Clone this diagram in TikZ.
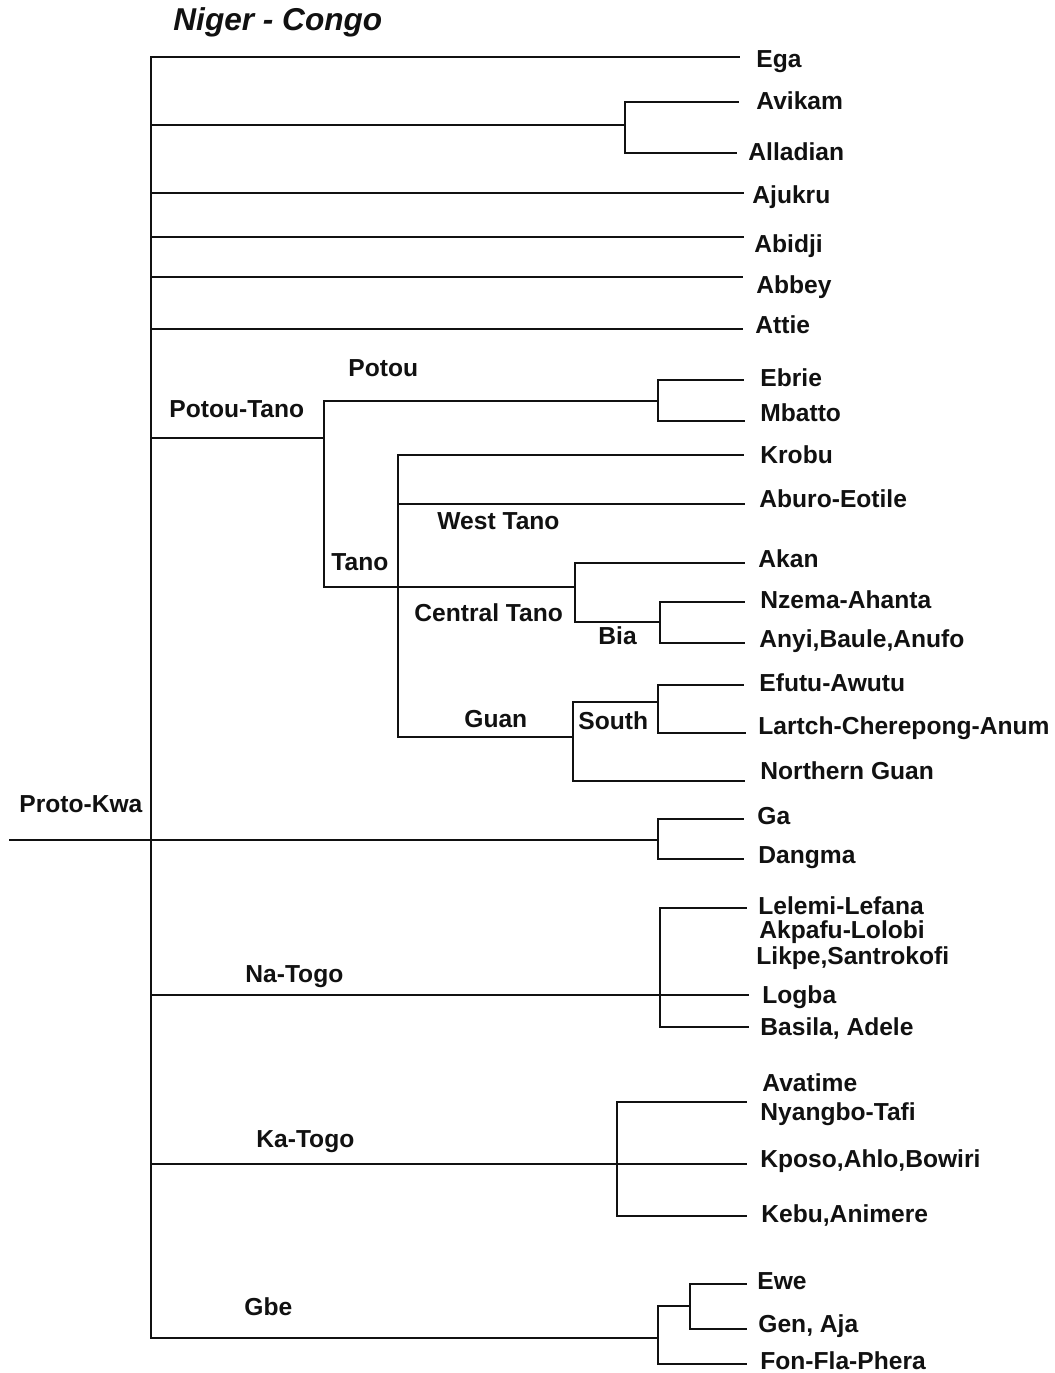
\documentclass[tikz,border=0pt]{standalone}
\usepackage{fontspec}
\setmainfont{Liberation Sans}
\usepackage{xcolor}
\usepackage{tikz}
\usetikzlibrary{positioning}
\definecolor{treeink}{HTML}{111111}
\tikzset{
  branch/.style      = {draw=treeink, line width=1.4pt, line cap=rect, line join=miter},
  leaf label/.style  = {anchor=west, inner sep=0pt, text height=0.716em, text depth=0pt,
                        text=treeink, font=\bfseries\fontsize{12.3}{14}\selectfont},
  clade label/.style = {leaf label},
  title label/.style = {leaf label, font=\bfseries\itshape\fontsize{15.8}{18}\selectfont},
}

\begin{document}
\begin{tikzpicture}[x=0.5pt, y=-0.5pt]
    \useasboundingbox (0,0) rectangle (1055,1373);
    \node[title label] (family) at (173,23) {Niger - Congo};

    % trunk and root
    \coordinate (trunk top) at (151,57);
    \coordinate (trunk bottom) at (151,1338);
    \coordinate (root) at (10,840);
    \node[clade label] (protokwa) at (19,805) {Proto-Kwa};
    \draw[branch] (trunk top) -- (trunk bottom);

    % junctions
    \coordinate (j avikam) at (625,125);
    \coordinate (j potoutano) at (324,438);
    \coordinate (j potou) at (658,401);
    \coordinate (j tano) at (398,587);
    \coordinate (j central) at (575,587);
    \coordinate (j bia) at (660,622);
    \coordinate (j guan) at (573,737);
    \coordinate (j south) at (658,702);
    \coordinate (j ga) at (658,840);
    \coordinate (j natogo) at (660,995);
    \coordinate (j katogo) at (617,1164);
    \coordinate (j gbe) at (658,1338);
    \coordinate (j ewe) at (690,1306);

    % leaf ends
    \coordinate (ega end) at (739,57);
    \coordinate (avikam end) at (738,102);
    \coordinate (alladian end) at (736,153);
    \coordinate (ajukru end) at (743,193);
    \coordinate (abidji end) at (743,237);
    \coordinate (abbey end) at (742,277);
    \coordinate (attie end) at (742,329);
    \coordinate (ebrie end) at (743,380);
    \coordinate (mbatto end) at (744,421);
    \coordinate (krobu end) at (743,455);
    \coordinate (aburo end) at (744,504);
    \coordinate (akan end) at (744,563);
    \coordinate (nzema end) at (744,602);
    \coordinate (anyi end) at (744,643);
    \coordinate (efutu end) at (743,685);
    \coordinate (lartch end) at (745,733);
    \coordinate (nguan end) at (744,781);
    \coordinate (ga end) at (743,819);
    \coordinate (dangma end) at (743,859);
    \coordinate (lelemi end) at (746,908);
    \coordinate (logba end) at (748,995);
    \coordinate (basila end) at (748,1027);
    \coordinate (nyangbo end) at (746,1102);
    \coordinate (kposo end) at (746,1164);
    \coordinate (kebu end) at (746,1216);
    \coordinate (ewe end) at (746,1284);
    \coordinate (gen end) at (746,1329);
    \coordinate (fon end) at (746,1364);

    % branches off the trunk
    \draw[branch] (trunk top) -- (ega end);
    \draw[branch] (j avikam -| trunk top) -- (j avikam);
    \draw[branch] (avikam end) -| (j avikam) |- (alladian end);
    \draw[branch] (ajukru end -| trunk top) -- (ajukru end);
    \draw[branch] (abidji end -| trunk top) -- (abidji end);
    \draw[branch] (abbey end -| trunk top) -- (abbey end);
    \draw[branch] (attie end -| trunk top) -- (attie end);

    % Potou-Tano
    \draw[branch] (j potoutano -| trunk top) -- (j potoutano);
    \draw[branch] (j potou) -| (j potoutano) |- (j central);
    \draw[branch] (ebrie end) -| (j potou) |- (mbatto end);
    \draw[branch] (krobu end) -| (j tano) |- (j guan);
    \draw[branch] (aburo end -| j tano) -- (aburo end);
    \draw[branch] (akan end) -| (j central) |- (j bia);
    \draw[branch] (nzema end) -| (j bia) |- (anyi end);
    \draw[branch] (j south) -| (j guan) |- (nguan end);
    \draw[branch] (efutu end) -| (j south) |- (lartch end);

    % Ga-Dangma on the root line
    \draw[branch] (root) -- (j ga);
    \draw[branch] (ga end) -| (j ga) |- (dangma end);

    % Na-Togo, Ka-Togo, Gbe
    \draw[branch] (j natogo -| trunk top) -- (logba end);
    \draw[branch] (lelemi end) -| (j natogo) |- (basila end);
    \draw[branch] (j katogo -| trunk top) -- (kposo end);
    \draw[branch] (nyangbo end) -| (j katogo) |- (kebu end);
    \draw[branch] (trunk bottom) -- (j gbe);
    \draw[branch] (j ewe) -| (j gbe) |- (fon end);
    \draw[branch] (ewe end) -| (j ewe) |- (gen end);

    % clade labels
    \node[clade label] (potoutano) at (169,410) {Potou-Tano};
    \node[clade label] (potou) at (348,369) {Potou};
    \node[clade label] (tano) at (331,563) {Tano};
    \node[clade label] (westtano) at (437,522) {West Tano};
    \node[clade label] (centraltano) at (414,614) {Central Tano};
    \node[clade label] (bia) at (598,637) {Bia};
    \node[clade label] (guan) at (464,720) {Guan};
    \node[clade label] (south) at (578,722) {South};
    \node[clade label] (natogo) at (245,975) {Na-Togo};
    \node[clade label] (katogo) at (256,1140) {Ka-Togo};
    \node[clade label] (gbe) at (244,1308) {Gbe};

    % leaf labels
    \node[leaf label] (ega) at (756,60) {Ega};
    \node[leaf label] (avikam) at (756,102) {Avikam};
    \node[leaf label] (alladian) at (748,153) {Alladian};
    \node[leaf label] (ajukru) at (752,196) {Ajukru};
    \node[leaf label] (abidji) at (754,245) {Abidji};
    \node[leaf label] (abbey) at (756,286) {Abbey};
    \node[leaf label] (attie) at (755,326) {Attie};
    \node[leaf label] (ebrie) at (760,379) {Ebrie};
    \node[leaf label] (mbatto) at (760,414) {Mbatto};
    \node[leaf label] (krobu) at (760,456) {Krobu};
    \node[leaf label] (aburo) at (759,500) {Aburo-Eotile};
    \node[leaf label] (akan) at (758,560) {Akan};
    \node[leaf label] (nzema) at (760,601) {Nzema-Ahanta};
    \node[leaf label] (anyi) at (759,640) {Anyi,Baule,Anufo};
    \node[leaf label] (efutu) at (759,684) {Efutu-Awutu};
    \node[leaf label] (lartch) at (758,727) {Lartch-Cherepong-Anum};
    \node[leaf label] (nguan) at (760,772) {Northern Guan};
    \node[leaf label] (ga) at (757,817) {Ga};
    \node[leaf label] (dangma) at (758,856) {Dangma};
    \node[leaf label] (lelemi) at (758,907) {Lelemi-Lefana};
    \node[leaf label] (akpafu) at (759,931) {Akpafu-Lolobi};
    \node[leaf label] (likpe) at (756,957) {Likpe,Santrokofi};
    \node[leaf label] (logba) at (762,996) {Logba};
    \node[leaf label] (basila) at (760,1028) {Basila, Adele};
    \node[leaf label] (avatime) at (762,1084) {Avatime};
    \node[leaf label] (nyangbo) at (760,1113) {Nyangbo-Tafi};
    \node[leaf label] (kposo) at (760,1160) {Kposo,Ahlo,Bowiri};
    \node[leaf label] (kebu) at (761,1215) {Kebu,Animere};
    \node[leaf label] (ewe) at (757,1282) {Ewe};
    \node[leaf label] (gen) at (758,1325) {Gen, Aja};
    \node[leaf label] (fon) at (760,1362) {Fon-Fla-Phera};
\end{tikzpicture}
\end{document}
